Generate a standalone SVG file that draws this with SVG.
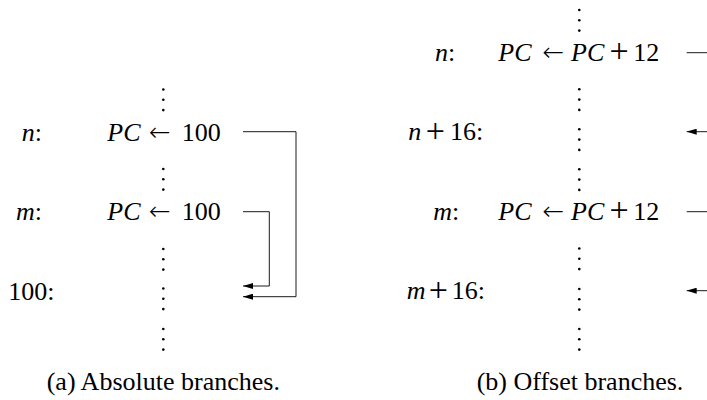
<svg xmlns="http://www.w3.org/2000/svg" width="707" height="400" viewBox="0 0 707 400">
<style>
  text { font-family: "Liberation Serif", "Times New Roman", serif; font-size: 26px; fill: #000; }
  .i { font-style: italic; }
  .c { text-anchor: middle; }
  .ar { font-family: "DejaVu Sans", sans-serif; font-weight: 200; font-size: 26px; text-anchor: middle; }
  .pl { font-size: 34px; text-anchor: middle; }
  .dot { fill: #000; }
  .conn { fill: none; stroke: #000; stroke-width: 0.9; }
</style>
<defs>
  <marker id="ah" viewBox="0 0 10 6" refX="10" refY="3" markerWidth="10" markerHeight="6" markerUnits="userSpaceOnUse" orient="auto">
    <path d="M0,0 L10,3 L0,6 Z" fill="#000"/>
  </marker>
  <g id="vd">
    <circle class="dot" cx="0" cy="0" r="1.3"/>
    <circle class="dot" cx="0" cy="10.3" r="1.3"/>
    <circle class="dot" cx="0" cy="20.6" r="1.3"/>
  </g>
</defs>

<!-- (a) Absolute branches -->
<g id="panel-a">
  <g id="a-dots">
    <use href="#vd" x="163.3" y="89.5"/>
    <use href="#vd" x="163.3" y="169"/>
    <use href="#vd" x="163.3" y="249"/>
    <use href="#vd" x="163.3" y="288.5"/>
    <use href="#vd" x="163.3" y="329"/>
  </g>
  <g id="a-n">
    <text x="21.7" y="140.5"><tspan class="i">n</tspan>:</text>
    <text class="i" x="107.3" y="140.5">PC</text>
    <text class="ar" x="160" y="141">←</text>
    <text x="181.7" y="140.5">100</text>
  </g>
  <g id="a-m">
    <text x="16" y="219.5"><tspan class="i">m</tspan>:</text>
    <text class="i" x="107.3" y="219.5">PC</text>
    <text class="ar" x="160" y="220">←</text>
    <text x="181.7" y="219.5">100</text>
  </g>
  <g id="a-100">
    <text x="8.3" y="300">100:</text>
  </g>
  <g id="a-caption">
    <text class="c" x="163.3" y="390">(a) Absolute branches.</text>
  </g>
</g>

<!-- (b) Offset branches -->
<g id="panel-b">
  <g id="b-dots">
    <use href="#vd" x="579.3" y="10"/>
    <use href="#vd" x="579.3" y="89.3"/>
    <use href="#vd" x="579.3" y="129.3"/>
    <use href="#vd" x="579.3" y="169.3"/>
    <use href="#vd" x="579.3" y="248.5"/>
    <use href="#vd" x="579.3" y="289"/>
    <use href="#vd" x="579.3" y="329"/>
  </g>
  <g id="b-n">
    <text x="435" y="60.5"><tspan class="i">n</tspan>:</text>
    <text class="i" x="498.3" y="60.5">PC</text>
    <text class="ar" x="553.3" y="61">←</text>
    <text class="i" x="571" y="60.5">PC</text>
    <text class="pl" x="619" y="62">+</text>
    <text x="633.3" y="60.5">12</text>
  </g>
  <g id="b-n16">
    <text class="i" x="408.3" y="140">n</text>
    <text class="pl" x="435.3" y="141.5">+</text>
    <text x="450" y="140">16:</text>
  </g>
  <g id="b-m">
    <text x="433.3" y="219.5"><tspan class="i">m</tspan>:</text>
    <text class="i" x="498.3" y="219.5">PC</text>
    <text class="ar" x="553.3" y="220">←</text>
    <text class="i" x="571" y="219.5">PC</text>
    <text class="pl" x="619" y="221">+</text>
    <text x="633.3" y="219.5">12</text>
  </g>
  <g id="b-m16">
    <text class="i" x="406.7" y="299">m</text>
    <text class="pl" x="438.3" y="300.5">+</text>
    <text x="451.7" y="299">16:</text>
  </g>
  <g id="b-caption">
    <text class="c" x="580" y="390">(b) Offset branches.</text>
  </g>
</g>

<g id="connectors">
  <path class="conn" d="M243,131.7 H296 V296.7 H243" marker-end="url(#ah)"/>
  <path class="conn" d="M243,211.7 H269.3 V286 H243" marker-end="url(#ah)"/>
  <path class="conn" d="M686.7,52.7 H707"/>
  <path class="conn" d="M707,131.7 H686.7" marker-end="url(#ah)"/>
  <path class="conn" d="M686.7,211.7 H707"/>
  <path class="conn" d="M707,290.7 H686.7" marker-end="url(#ah)"/>
</g>
</svg>
